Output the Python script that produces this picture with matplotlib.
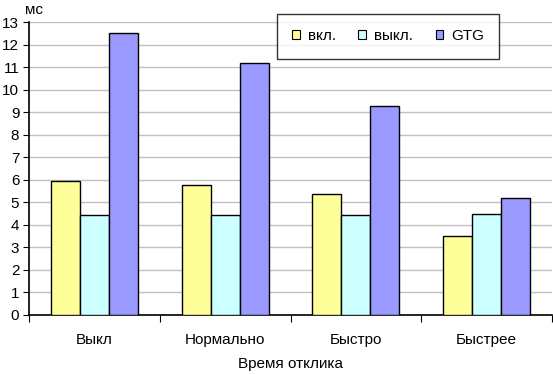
import numpy as np
import matplotlib.pyplot as plt
from matplotlib.patches import Patch

plt.rcParams['font.family'] = ['Liberation Sans', 'DejaVu Sans']

categories = ['Выкл', 'Нормально', 'Быстро', 'Быстрее']
series_names = ['вкл.', 'выкл.', 'GTG']
vkl = [5.93, 5.75, 5.37, 3.49]
vykl = [4.42, 4.42, 4.42, 4.48]
gtg = [12.5, 11.18, 9.27, 5.18]
colors = ['#FFFF99', '#CCFFFF', '#9999FF']

fig = plt.figure(figsize=(5.53, 3.74), dpi=100)
ax = fig.add_axes([29 / 553, 1 - 315 / 374, 523 / 553, 293 / 374])

x = np.arange(len(categories))
w = 0.222
for i, (vals, c) in enumerate(zip([vkl, vykl, gtg], colors)):
    ax.bar(x + (i - 1) * w, vals, width=w, color=c, edgecolor='black', linewidth=1, zorder=3)

ax.set_xlim(-0.5, 3.5)
ax.set_ylim(0, 13)
ax.set_yticks(range(0, 14))
ax.tick_params(axis='y', labelsize=11, length=4, direction='out', pad=3)
ax.set_xticks(np.arange(-0.5, 4, 1))
ax.set_xticklabels([])
ax.set_xticks(x, minor=True)
ax.set_xticklabels(categories, minor=True, fontsize=11)
ax.tick_params(axis='x', which='minor', length=0, pad=13)
ax.tick_params(axis='x', which='major', length=5, direction='out')
ax.grid(axis='y', color='#c0c0c0', linewidth=1, zorder=0)
for s in ['top', 'right']:
    ax.spines[s].set_visible(False)
ax.spines['left'].set_linewidth(1.2)
ax.spines['bottom'].set_linewidth(1.2)

ax.set_xlabel('Время отклика', fontsize=11, labelpad=7)
fig.text(25 / 553, 1 - 10 / 374, 'мс', fontsize=11, va='center', ha='left')

handles = [Patch(facecolor=c, edgecolor='black', linewidth=0.8) for c in colors]
leg = fig.legend(handles, series_names, loc='upper left', bbox_to_anchor=(277 / 553, 1 - 14 / 374),
                 borderaxespad=0, ncol=3, frameon=True, fancybox=False, fontsize=11,
                 handlelength=0.5, handleheight=0.5, handletextpad=0.5, columnspacing=1.5,
                 borderpad=1.0, edgecolor='black')
leg.get_frame().set_linewidth(1)

fig.savefig('out.png', dpi=100)
